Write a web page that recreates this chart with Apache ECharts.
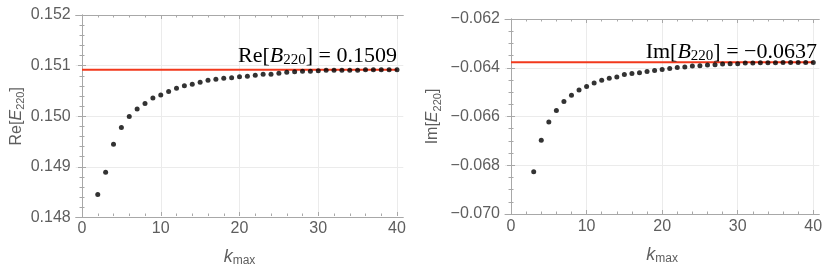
<!DOCTYPE html>
<html><head><meta charset="utf-8">
<script src="https://cdn.jsdelivr.net/npm/echarts@6/dist/echarts.min.js"></script>
<style>html,body{margin:0;padding:0;background:#fff}#c{width:830px;height:272px}</style>
</head><body><div id="c"></div>
<script>
// ---- data ----
const kRe = [2,3,4,5,6,7,8,9,10,11,12,13,14,15,16,17,18,19,20,21,22,23,24,25,26,27,28,29,30,31,32,33,34,35,36,37,38,39,40];
const reE = [0.14843,0.14887,0.14943,0.14976,0.14998,0.15013,0.15024,0.15035,0.15041,0.15048,0.15054,0.15059,0.15062,0.15066,0.15070,0.15072,0.15074,0.15075,0.15077,0.15078,0.15080,0.15082,0.15082,0.15084,0.15086,0.15087,0.15088,0.15088,0.15089,0.15090,0.15090,0.15090,0.15090,0.15090,0.15091,0.15091,0.15091,0.15091,0.15091];
const kIm = [3,4,5,6,7,8,9,10,11,12,13,14,15,16,17,18,19,20,21,22,23,24,25,26,27,28,29,30,31,32,33,34,35,36,37,38,39,40];
const imE = [-0.06827,-0.06697,-0.06623,-0.06575,-0.06538,-0.06513,-0.06491,-0.06477,-0.06463,-0.06451,-0.06443,-0.06438,-0.06428,-0.06424,-0.06420,-0.06415,-0.06411,-0.06407,-0.06403,-0.06399,-0.06397,-0.06393,-0.06392,-0.06389,-0.06388,-0.06385,-0.06384,-0.06384,-0.06380,-0.06380,-0.06379,-0.06379,-0.06379,-0.06378,-0.06378,-0.06378,-0.06378,-0.06378];
const refRe = 0.15091, refReLabel = '0.1509';
const refIm = -0.06377, refImLabel = '\u22120.0637';
const xRange = [0, 40], xFrame = [-0.8, 40.8];
const yRangeRe = [0.148, 0.152], yRangeIm = [-0.070, -0.062];

const AX = '#a8a8a8', LAB = '#5e5e5e', GRID = '#ebebeb', RED = '#f2391c';
const fmtY = v => (v < 0 ? '\u2212' : '') + Math.abs(v).toFixed(3);

// frame grids (outer) and data grids (inner, inset so that 0..40 sits inside the padded frame)
const frames = [ {left:75.7, right:426.7, top:15, bottom:54.5}, {left:505, right:10.7, top:19, bottom:58} ];
function inner(f){
  const W = 830 - f.left - f.right, s = W / (xFrame[1]-xFrame[0]);
  return {left: f.left + (xRange[0]-xFrame[0])*s, right: f.right + (xFrame[1]-xRange[1])*s, top: f.top, bottom: f.bottom};
}
const grids = [frames[0], frames[1], inner(frames[0]), inner(frames[1])];

const xAxes = [], yAxes = [];
function frameAxes(g, yr, yint, ysplit, name, nameGap){
  ['bottom','top'].forEach(p => xAxes.push({type:'value', gridIndex:g, position:p, min:xFrame[0], max:xFrame[1],
    axisLine:{show:true, lineStyle:{color:AX, width:1}}, axisTick:{show:false}, axisLabel:{show:false}, splitLine:{show:false}}));
  ['left','right'].forEach(p => yAxes.push({type:'value', gridIndex:g, position:p, min:yr[0], max:yr[1], interval:yint,
    axisLine:{show:true, lineStyle:{color:AX, width:1}},
    axisTick:{show:true, inside:true, length:4, lineStyle:{color:AX}},
    minorTick:{show:true, splitNumber:ysplit, length:2.5, lineStyle:{color:AX}},
    axisLabel:{show:p==='left', formatter:fmtY, color:LAB, fontSize:16, fontFamily:'Liberation Sans', margin:5},
    splitLine:{show:p==='left', lineStyle:{color:GRID, width:1}},
    name: p==='left' ? name : '', nameLocation:'middle', nameGap:nameGap, nameRotate:90,
    nameTextStyle:{color:LAB, fontSize:16, fontFamily:'Liberation Sans',
      rich:{n:{color:LAB, fontSize:16, fontFamily:'Liberation Sans', lineHeight:20},
            i:{color:LAB, fontSize:16, fontFamily:'Liberation Sans', fontStyle:'italic', lineHeight:20},
            s:{color:LAB, fontSize:11, fontFamily:'Liberation Sans', lineHeight:10, verticalAlign:'bottom'}}}
  }));
}
function dataAxes(g, yr){
  ['bottom','top'].forEach(p => xAxes.push({type:'value', gridIndex:g, position:p, min:xRange[0], max:xRange[1], interval:10,
    axisLine:{show:false},
    axisTick:{show:true, inside:true, length:4, lineStyle:{color:AX}},
    minorTick:{show:true, splitNumber:5, length:2.5, lineStyle:{color:AX}},
    axisLabel:{show:p==='bottom', color:LAB, fontSize:16, fontFamily:'Liberation Sans', margin:5},
    splitLine:{show:p==='bottom', lineStyle:{color:GRID, width:1}},
    name: p==='bottom' ? '{i|k}{s|max}' : '', nameLocation:'middle', nameGap:31,
    nameTextStyle:{rich:{i:{color:LAB, fontSize:18, fontFamily:'Liberation Sans', fontStyle:'italic', lineHeight:20},
                         s:{color:LAB, fontSize:12, fontFamily:'Liberation Sans', lineHeight:12, verticalAlign:'bottom'}}}
  }));
  yAxes.push({type:'value', gridIndex:g, min:yr[0], max:yr[1], show:false});
}
frameAxes(0, yRangeRe, 0.001, 5, '{n|Re[}{i|E}{s|220}{n|]}', 45);
frameAxes(1, yRangeIm, 0.002, 4, '{n|Im[}{i|E}{s|220}{n|]}', 62);
dataAxes(2, yRangeRe);
dataAxes(3, yRangeIm);

const dots = (k, v) => k.map((x, i) => [x, v[i]]);
const ann = (x, y, pre, val) => ({type:'text', right: 830 - x, top: y, z:100,
  style:{text:'{r|' + pre + '[}{i|B}{s|220}{r|] = ' + val + '}', fill:'#000', font:'22px "Liberation Serif"',
    rich:{r:{fontFamily:'Liberation Serif', fontSize:22, lineHeight:24, fill:'#000'},
          i:{fontFamily:'Liberation Serif', fontSize:22, fontStyle:'italic', lineHeight:24, fill:'#000'},
          s:{fontFamily:'Liberation Serif', fontSize:15, lineHeight:14, verticalAlign:'bottom', fill:'#000'}}}});

const chart = echarts.init(document.getElementById('c'), null, {renderer:'canvas'});
chart.setOption({
  animation:false,
  grid: grids.map(g => Object.assign({containLabel:false}, g)),
  xAxis: xAxes, yAxis: yAxes,
  series:[
    {type:'line', xAxisIndex:4, yAxisIndex:4, data:[[xRange[0], refRe],[xRange[1], refRe]], symbol:'none', lineStyle:{color:RED, width:2}, z:2},
    {type:'scatter', xAxisIndex:4, yAxisIndex:4, data:dots(kRe, reE), symbolSize:5, itemStyle:{color:'#000'}, z:3},
    {type:'line', xAxisIndex:6, yAxisIndex:5, data:[[xRange[0], refIm],[xRange[1], refIm]], symbol:'none', lineStyle:{color:RED, width:2}, z:2},
    {type:'scatter', xAxisIndex:6, yAxisIndex:5, data:dots(kIm, imE), symbolSize:5, itemStyle:{color:'#000'}, z:3}
  ],
  graphic:[ ann(397, 45, 'Re', refReLabel), ann(817, 41, 'Im', refImLabel) ]
});
</script></body></html>
